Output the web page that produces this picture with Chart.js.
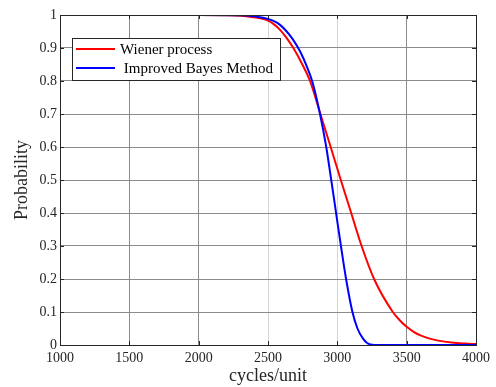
<!DOCTYPE html>
<html>
<head>
<meta charset="utf-8">
<script src="https://cdn.jsdelivr.net/npm/chart.js@4/dist/chart.umd.min.js"></script>
<style>
  html, body { margin: 0; padding: 0; background: #fff; }
  #wrap { width: 496px; height: 387px; }
</style>
</head>
<body>
<div id="wrap"><canvas id="relChart"></canvas></div>
<script>
// values
const xTicks = [1000, 1500, 2000, 2500, 3000, 3500, 4000];
const yTicks = [0, 0.1, 0.2, 0.3, 0.4, 0.5, 0.6, 0.7, 0.8, 0.9, 1];

const wienerCycles = [1000, 2000, 2200, 2300, 2443, 2500, 2539, 2587, 2635, 2683, 2743, 2803, 2878, 2952, 3025, 3100, 3175, 3265, 3400, 3450, 3500, 3550, 3600, 3660, 3718, 3838, 4000];
const wienerProb   = [1, 1, 0.9995, 0.998, 0.99, 0.983, 0.973, 0.955, 0.93, 0.9, 0.854, 0.8, 0.7, 0.6, 0.5, 0.4, 0.3, 0.2, 0.1, 0.075, 0.055, 0.04, 0.029, 0.02, 0.014, 0.007, 0.003];

const bayesCycles = [1000, 2000, 2300, 2443, 2539, 2587, 2635, 2683, 2731, 2779, 2822, 2875, 2920, 2956, 2991, 3026, 3063, 3109, 3145, 3184, 3215, 3250, 3300, 4000];
const bayesProb   = [1, 1, 0.999, 0.993, 0.982, 0.97, 0.95, 0.924, 0.89, 0.845, 0.795, 0.7, 0.6, 0.5, 0.4, 0.3, 0.2, 0.1, 0.05, 0.02, 0.006, 0.001, 0, 0];

const seriesNames = ["Wiener process", " Improved Bayes Method"];

function toPoints(xs, ys) {
  return xs.map((x, i) => ({ x: x, y: ys[i] }));
}

const SERIF = "'Liberation Serif', 'Times New Roman', serif";

// box, inside ticks and legend like the matlab figure
const framePlugin = {
  id: "frame",
  afterDraw(chart) {
    const { ctx, chartArea: a, scales } = chart;
    ctx.save();
    ctx.strokeStyle = "#262626";
    ctx.lineWidth = 1;
    ctx.beginPath();
    xTicks.forEach((t) => {
      const px = Math.round(scales.x.getPixelForValue(t)) + 0.5;
      ctx.moveTo(px, a.bottom); ctx.lineTo(px, a.bottom - 4);
      ctx.moveTo(px, a.top); ctx.lineTo(px, a.top + 4);
    });
    yTicks.forEach((t) => {
      const py = Math.round(scales.y.getPixelForValue(t)) + 0.5;
      ctx.moveTo(a.left, py); ctx.lineTo(a.left + 4, py);
      ctx.moveTo(a.right, py); ctx.lineTo(a.right - 4, py);
    });
    ctx.stroke();
    ctx.strokeRect(Math.round(a.left) + 0.5, Math.round(a.top) + 0.5,
      Math.round(a.right - a.left), Math.round(a.bottom - a.top));

    // legend
    const lx = a.left + 12, ly = a.top + 23, lw = 208, lh = 42;
    ctx.fillStyle = "#ffffff";
    ctx.fillRect(lx, ly, lw, lh);
    ctx.strokeStyle = "#262626";
    ctx.strokeRect(lx + 0.5, ly + 0.5, lw, lh);
    ctx.font = "15px " + SERIF;
    ctx.textBaseline = "middle";
    chart.data.datasets.forEach((ds, i) => {
      const yy = ly + 11 + i * 19;
      ctx.strokeStyle = ds.borderColor;
      ctx.lineWidth = 2;
      ctx.beginPath();
      ctx.moveTo(lx + 4, yy); ctx.lineTo(lx + 43, yy);
      ctx.stroke();
      ctx.fillStyle = "#000";
      ctx.fillText(ds.label, lx + 48, yy + 1);
    });
    ctx.restore();
  }
};

const ctx = document.getElementById("relChart").getContext("2d");
new Chart(ctx, {
  type: "line",
  data: {
    datasets: [
      {
        label: seriesNames[0],
        data: toPoints(wienerCycles, wienerProb),
        borderColor: "#ff0000",
        borderWidth: 2,
        pointRadius: 0,
        cubicInterpolationMode: "monotone",
        order: 1,
      },
      {
        label: seriesNames[1],
        data: toPoints(bayesCycles, bayesProb),
        borderColor: "#0000ff",
        borderWidth: 2,
        pointRadius: 0,
        cubicInterpolationMode: "monotone",
        order: 0,
      },
    ],
  },
  options: {
    responsive: true,
    maintainAspectRatio: false,
    animation: false,
    layout: { padding: { top: 15, right: 20, left: 0, bottom: 0 } },
    plugins: { legend: { display: false }, tooltip: { enabled: false } },
    scales: {
      x: {
        type: "linear",
        min: 1000,
        max: 4000,
        afterBuildTicks: (s) => { s.ticks = xTicks.map((v) => ({ value: v })); },
        afterFit: (s) => { s.height = 42; },
        grid: {
          drawTicks: false,
          color: (c) => (c.tick && (c.tick.value === 2500 || c.tick.value === 3000) ? "#d4d4d4" : "#8a8a8a"),
        },
        border: { display: false },
        ticks: {
          color: "#262626", padding: 5, maxRotation: 0,
          font: { family: SERIF, size: 14 },
          callback: (v) => String(v),
        },
        title: { display: true, text: "cycles/unit", color: "#262626", padding: 0, font: { family: SERIF, size: 18 } },
      },
      y: {
        min: 0,
        max: 1,
        afterBuildTicks: (s) => { s.ticks = yTicks.map((v) => ({ value: v })); },
        afterFit: (s) => { s.width = 60; },
        grid: { drawTicks: false, color: "#8a8a8a" },
        border: { display: false },
        ticks: {
          color: "#262626", padding: 3,
          font: { family: SERIF, size: 14 },
          callback: (v) => String(v),
        },
        title: { display: true, text: "Probability", color: "#262626", padding: { top: 11 }, font: { family: SERIF, size: 18 } },
      },
    },
  },
  plugins: [framePlugin],
});
</script>
</body>
</html>
